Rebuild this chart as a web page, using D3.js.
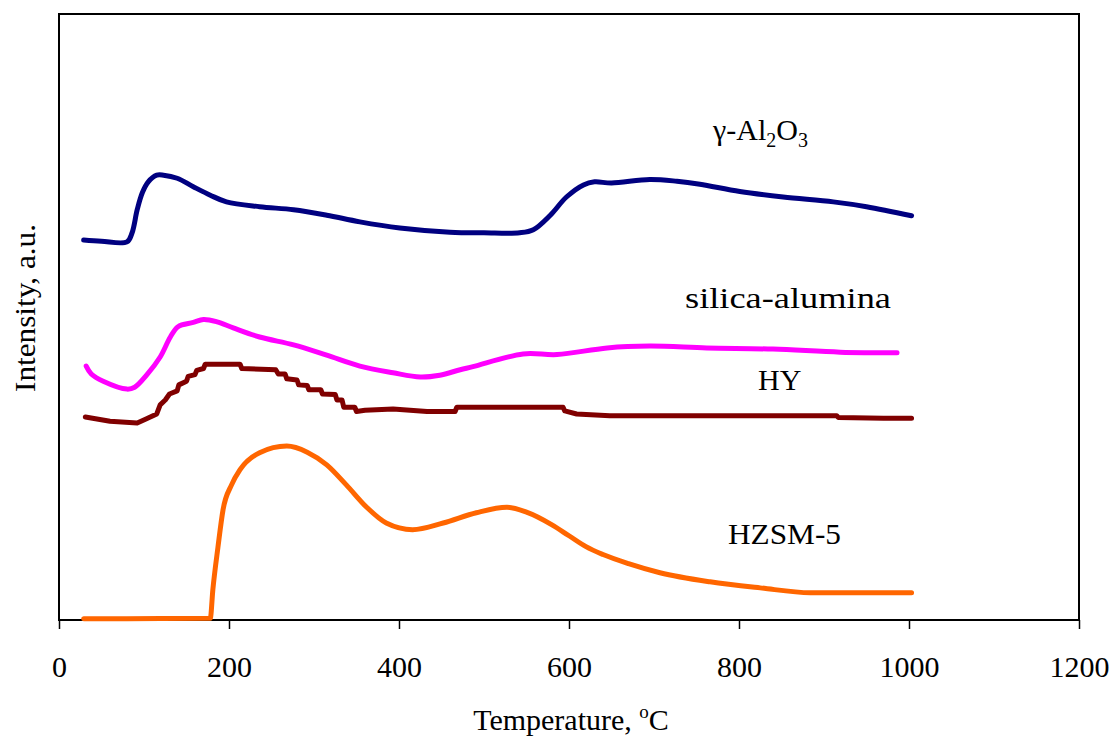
<!DOCTYPE html>
<html>
<head>
<meta charset="utf-8">
<script src="https://cdn.jsdelivr.net/npm/d3@7/dist/d3.min.js"></script>
<style>
  html, body { margin: 0; padding: 0; background: #fff; }
  svg { display: block; font-family: "Liberation Serif", "Times New Roman", serif; }
</style>
</head>
<body>
<svg id="chart" width="1114" height="740"></svg>
<script>
// TPD profiles: [temperature °C, intensity a.u.]
const gammaAlumina = [
  [29, 62.7], [50, 62.5], [80, 62.4], [86, 63.9], [92, 67.7], [98, 70.5], [105, 72.3],
  [115, 73.4], [123, 73.4], [139, 72.9], [158, 71.5], [178, 70.1], [197, 69.0],
  [236, 68.2], [276, 67.7], [315, 66.8], [354, 65.7], [401, 64.7], [460, 64.0],
  [500, 63.9], [542, 63.9], [558, 64.4], [578, 66.8], [597, 69.8], [617, 71.8],
  [630, 72.3], [650, 72.1], [695, 72.7], [727, 72.4], [754, 71.9], [801, 70.7],
  [852, 69.8], [911, 69.0], [950, 68.2], [1003, 66.7]
];
const silicaAlumina = [
  [32, 41.9], [38, 40.6], [52, 39.4], [80, 38.1], [89, 38.4], [103, 40.4], [119, 43.4],
  [131, 46.7], [140, 48.4], [158, 49.1], [170, 49.6], [186, 49.2], [205, 48.2],
  [236, 46.7], [276, 45.4], [315, 43.7], [354, 41.9], [393, 40.8], [425, 40.1],
  [448, 40.4], [472, 41.3], [487, 41.8], [546, 43.9], [586, 43.8], [645, 44.9],
  [695, 45.2], [762, 44.9], [840, 44.7], [919, 44.2], [986, 44.1]
];
const zeoliteHY = [
  [31, 33.5], [60, 32.8], [92, 32.5], [103, 33.2], [115, 34.0], [119, 35.5], [125, 36.3],
  [130, 37.3], [139, 37.8], [141, 38.8], [150, 39.4], [152, 40.2], [160, 40.5],
  [162, 41.2], [170, 41.5], [172, 42.2], [213, 42.2], [215, 41.5], [255, 41.3],
  [258, 40.6], [266, 40.6], [268, 39.8], [280, 39.6], [282, 38.8], [292, 38.7],
  [294, 38.0], [308, 38.0], [310, 37.3], [325, 37.2], [327, 36.3], [333, 36.3],
  [335, 35.1], [348, 35.1], [350, 34.4], [360, 34.6], [393, 34.8], [433, 34.4],
  [466, 34.4], [468, 35.1], [593, 35.1], [595, 34.5], [609, 34.0], [648, 33.7],
  [915, 33.7], [917, 33.4], [970, 33.3], [1003, 33.3]
];
const zeoliteHZSM5 = [
  [29, 0.2], [120, 0.25], [178, 0.3], [181, 5.0], [187, 12.0], [193, 18.2], [203, 22.3],
  [213, 24.8], [236, 27.6], [268, 28.7], [292, 27.7], [315, 25.6], [338, 22.3],
  [362, 18.6], [385, 16.0], [416, 14.9], [452, 16.0], [491, 17.7], [527, 18.6],
  [550, 17.8], [580, 15.7], [600, 13.9], [620, 12.1], [640, 10.8], [670, 9.3],
  [707, 7.8], [766, 6.3], [825, 5.3], [884, 4.5], [1003, 4.5]
];
const xTicks = [0, 200, 400, 600, 800, 1000, 1200];

const svg = d3.select("#chart");
const plotLeft = 59, plotRight = 1079, plotTop = 14, plotBottom = 620;

const x = d3.scaleLinear().domain([0, 1200]).range([plotLeft, plotRight]);
const y = d3.scaleLinear().domain([0, 100]).range([plotBottom, plotTop]);

// x axis with outward ticks
const xAxis = d3.axisBottom(x).tickValues(xTicks).tickSize(9).tickPadding(27).tickFormat(d3.format("d"));
const gx = svg.append("g").attr("transform", `translate(0,${plotBottom})`).call(xAxis);
gx.select(".domain").remove();
gx.selectAll(".tick line").attr("stroke", "#000").attr("stroke-width", 1.5);
gx.selectAll(".tick text")
  .attr("fill", "#000")
  .style("font-family", "'Liberation Serif', serif")
  .style("font-size", "30px");

// plot frame
svg.append("rect")
  .attr("x", plotLeft).attr("y", plotTop)
  .attr("width", plotRight - plotLeft).attr("height", plotBottom - plotTop)
  .attr("fill", "none").attr("stroke", "#000").attr("stroke-width", 2);

const smooth = d3.curveCatmullRom.alpha(0.5);
const series = [
  { data: gammaAlumina, color: "#000080", curve: smooth },
  { data: silicaAlumina, color: "#ff00ff", curve: smooth },
  { data: zeoliteHY, color: "#800000", curve: d3.curveLinear },
  { data: zeoliteHZSM5, color: "#ff6600", curve: d3.curveMonotoneX }
];

series.forEach(s => {
  const line = d3.line().x(d => x(d[0])).y(d => y(d[1])).curve(s.curve);
  svg.append("path")
    .datum(s.data)
    .attr("d", line)
    .attr("fill", "none")
    .attr("stroke", s.color)
    .attr("stroke-width", 5)
    .attr("stroke-linecap", "round")
    .attr("stroke-linejoin", "round");
});

// series labels
const lab = (tx, ty) => svg.append("text").attr("x", tx).attr("y", ty)
  .attr("font-size", 30).attr("fill", "#000");

const al = lab(713, 140);
al.append("tspan").text("γ-Al");
al.append("tspan").attr("font-size", 20).attr("dy", 7).text("2");
al.append("tspan").attr("dy", -7).text("O");
al.append("tspan").attr("font-size", 20).attr("dy", 7).text("3");

lab(685, 308).attr("textLength", 206).attr("lengthAdjust", "spacingAndGlyphs").text("silica-alumina");
lab(758, 390).text("HY");
lab(728, 544).attr("textLength", 113).attr("lengthAdjust", "spacingAndGlyphs").text("HZSM-5");

// axis titles
const xt = svg.append("text").attr("x", 571).attr("y", 730)
  .attr("text-anchor", "middle").attr("font-size", 30).attr("fill", "#000");
xt.append("tspan").text("Temperature, ");
xt.append("tspan").attr("font-size", 19).attr("dy", -12).text("o");
xt.append("tspan").attr("dy", 12).text("C");

svg.append("text")
  .attr("transform", "translate(35,308) rotate(-90)")
  .attr("text-anchor", "middle").attr("font-size", 30).attr("fill", "#000")
  .attr("textLength", 168).attr("lengthAdjust", "spacingAndGlyphs")
  .text("Intensity, a.u.");
</script>
</body>
</html>
